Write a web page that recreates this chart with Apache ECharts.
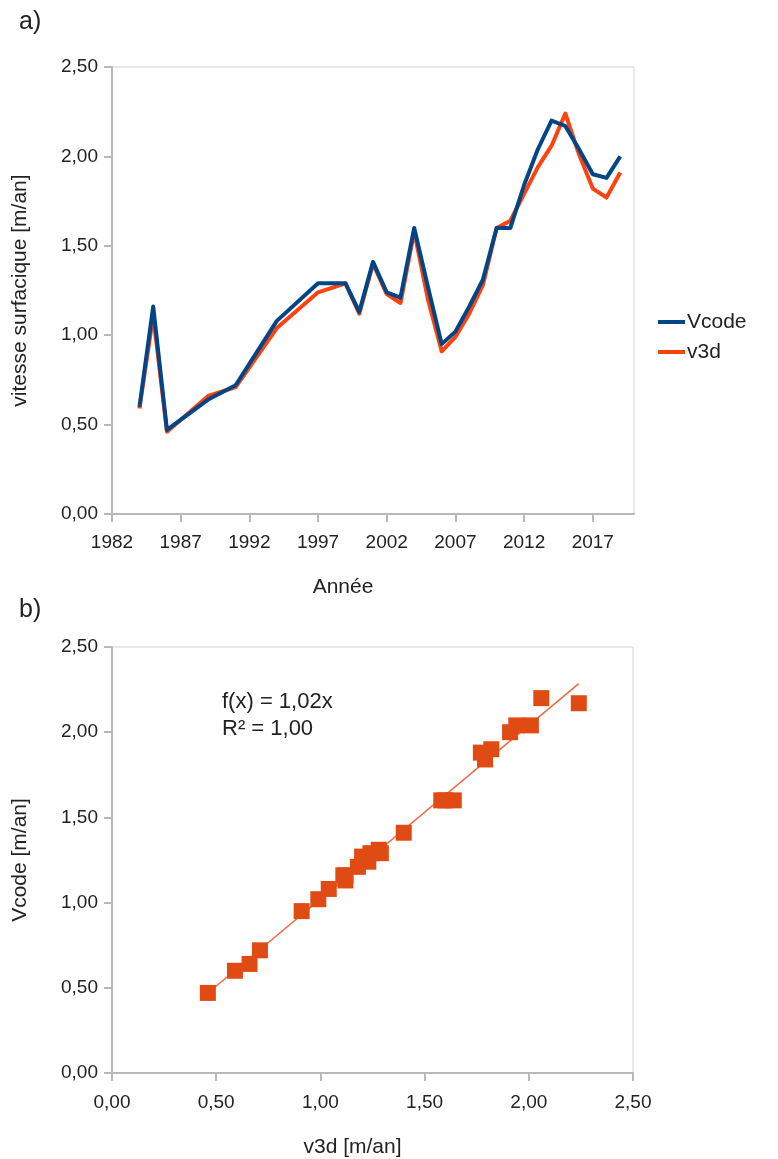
<!DOCTYPE html>
<html>
<head>
<meta charset="utf-8">
<script src="https://cdn.jsdelivr.net/npm/echarts@6/dist/echarts.min.js"></script>
<style>
  html, body { margin: 0; padding: 0; background: #ffffff; }
  #chart { width: 778px; height: 1159px; }
</style>
</head>
<body>
<div id="chart"></div>
<script>
// Surface velocity per year, two measurement methods
const years = [1984, 1985, 1986, 1989, 1991, 1994, 1997, 1999, 2000, 2001, 2002, 2003, 2004, 2005,
               2006, 2007, 2008, 2009, 2010, 2011, 2012, 2013, 2014, 2015, 2016, 2017, 2018, 2019];
const vcode = [0.60, 1.16, 0.47, 0.64, 0.72, 1.08, 1.29, 1.29, 1.13, 1.41, 1.24, 1.21, 1.60, 1.27,
               0.95, 1.02, 1.16, 1.31, 1.60, 1.60, 1.84, 2.04, 2.20, 2.17, 2.04, 1.90, 1.88, 2.00];
const v3d   = [0.59, 1.11, 0.46, 0.66, 0.71, 1.04, 1.24, 1.29, 1.12, 1.40, 1.23, 1.18, 1.58, 1.20,
               0.91, 0.99, 1.12, 1.28, 1.60, 1.64, 1.79, 1.94, 2.06, 2.24, 2.01, 1.82, 1.77, 1.91];
const yearTicks = [1982, 1987, 1992, 1997, 2002, 2007, 2012, 2017];

// Linear fit through origin shown in panel b
const fitSlope = 1.02;
const fitR2 = 1.00;

const FONT = "'Liberation Sans', Arial, sans-serif";
const TEXT = '#222222';
const AXIS = '#b8b8b8';
const BORDER = '#d4d4d4';
const BLUE = '#004586';
const ORANGE = '#ff420e';
const MARK = '#e04b14';

const comma = (v, d) => v.toFixed(d).replace('.', ',');

const lineYear = years.map((y, i) => [y, vcode[i]]);
const line3d = years.map((y, i) => [y, v3d[i]]);
const scatter = years.map((y, i) => [v3d[i], vcode[i]]);
const xMin = Math.min(...v3d), xMax = Math.max(...v3d);
const fitLine = [[xMin, fitSlope * xMin], [xMax, fitSlope * xMax]];

const axisCommon = {
  axisLine: { show: true, lineStyle: { color: AXIS, width: 2 } },
  axisTick: { show: true, length: 8, lineStyle: { color: AXIS, width: 2 } },
  splitLine: { show: false },
  axisLabel: { color: TEXT, fontSize: 19, fontFamily: FONT },
  nameTextStyle: { color: TEXT, fontSize: 21, fontFamily: FONT }
};

const chart = echarts.init(document.getElementById('chart'), null, { renderer: 'canvas' });

chart.setOption({
  animation: false,
  backgroundColor: '#ffffff',
  title: [
    { text: 'a)', left: 14, top: 5, textStyle: { color: TEXT, fontSize: 25, fontWeight: 'normal', fontFamily: FONT } },
    { text: 'b)', left: 14, top: 593, textStyle: { color: TEXT, fontSize: 25, fontWeight: 'normal', fontFamily: FONT } }
  ],
  legend: {
    orient: 'vertical',
    left: 653,
    top: 306,
    itemGap: 8,
    itemWidth: 27,
    itemHeight: 4,
    icon: 'rect',
    data: ['Vcode', 'v3d'],
    textStyle: { color: TEXT, fontSize: 21, lineHeight: 22, fontFamily: FONT, padding: [0, 0, 0, -3] }
  },
  grid: [
    { left: 112, top: 67, width: 522, height: 447, show: true, borderColor: BORDER, borderWidth: 1, containLabel: false },
    { left: 112, top: 647, width: 521, height: 430, show: true, borderColor: BORDER, borderWidth: 1, containLabel: false }
  ],
  xAxis: [
    Object.assign({}, axisCommon, {
      gridIndex: 0, type: 'value', min: 1982, max: 2020,
      name: 'Année', nameLocation: 'middle', nameGap: 63,
      nameTextStyle: Object.assign({}, axisCommon.nameTextStyle, { padding: [0, 60, 0, 0] }),
      axisTick: Object.assign({}, axisCommon.axisTick, { customValues: yearTicks }),
      axisLabel: Object.assign({}, axisCommon.axisLabel, { customValues: yearTicks, margin: 19, formatter: v => String(v) })
    }),
    Object.assign({}, axisCommon, {
      gridIndex: 1, type: 'value', min: 0, max: 2.5, interval: 0.5,
      name: 'v3d [m/an]', nameLocation: 'middle', nameGap: 64,
      nameTextStyle: Object.assign({}, axisCommon.nameTextStyle, { padding: [0, 40, 0, 0] }),
      axisLabel: Object.assign({}, axisCommon.axisLabel, { margin: 20, formatter: v => comma(v, 2) })
    })
  ],
  yAxis: [
    Object.assign({}, axisCommon, {
      gridIndex: 0, type: 'value', min: 0, max: 2.5, interval: 0.5,
      name: 'vitesse surfacique [m/an]', nameLocation: 'middle', nameGap: 81,
      axisLabel: Object.assign({}, axisCommon.axisLabel, { margin: 14, formatter: v => comma(v, 2) })
    }),
    Object.assign({}, axisCommon, {
      gridIndex: 1, type: 'value', min: 0, max: 2.5, interval: 0.5,
      name: 'Vcode [m/an]', nameLocation: 'middle', nameGap: 81,
      axisLabel: Object.assign({}, axisCommon.axisLabel, { margin: 14, formatter: v => comma(v, 2) })
    })
  ],
  series: [
    {
      name: 'v3d', type: 'line', xAxisIndex: 0, yAxisIndex: 0, data: line3d,
      showSymbol: false, z: 2,
      lineStyle: { color: ORANGE, width: 4, join: 'round' }, itemStyle: { color: ORANGE }
    },
    {
      name: 'Vcode', type: 'line', xAxisIndex: 0, yAxisIndex: 0, data: lineYear,
      showSymbol: false, z: 3,
      lineStyle: { color: BLUE, width: 4, join: 'round' }, itemStyle: { color: BLUE }
    },
    {
      name: 'fit', type: 'line', xAxisIndex: 1, yAxisIndex: 1, data: fitLine,
      showSymbol: false, z: 2,
      lineStyle: { color: '#ea6a44', width: 1.5 }
    },
    {
      name: 'points', type: 'scatter', xAxisIndex: 1, yAxisIndex: 1, data: scatter,
      symbol: 'rect', symbolSize: 16, z: 3,
      itemStyle: { color: MARK, opacity: 1 }
    }
  ],
  graphic: [
    {
      type: 'text', left: 222, top: 688, z: 10,
      style: {
        text: 'f(x) = ' + comma(fitSlope, 2) + 'x\nR² = ' + comma(fitR2, 2),
        fill: TEXT, fontSize: 22, lineHeight: 27, fontFamily: FONT
      }
    }
  ]
});
</script>
</body>
</html>
